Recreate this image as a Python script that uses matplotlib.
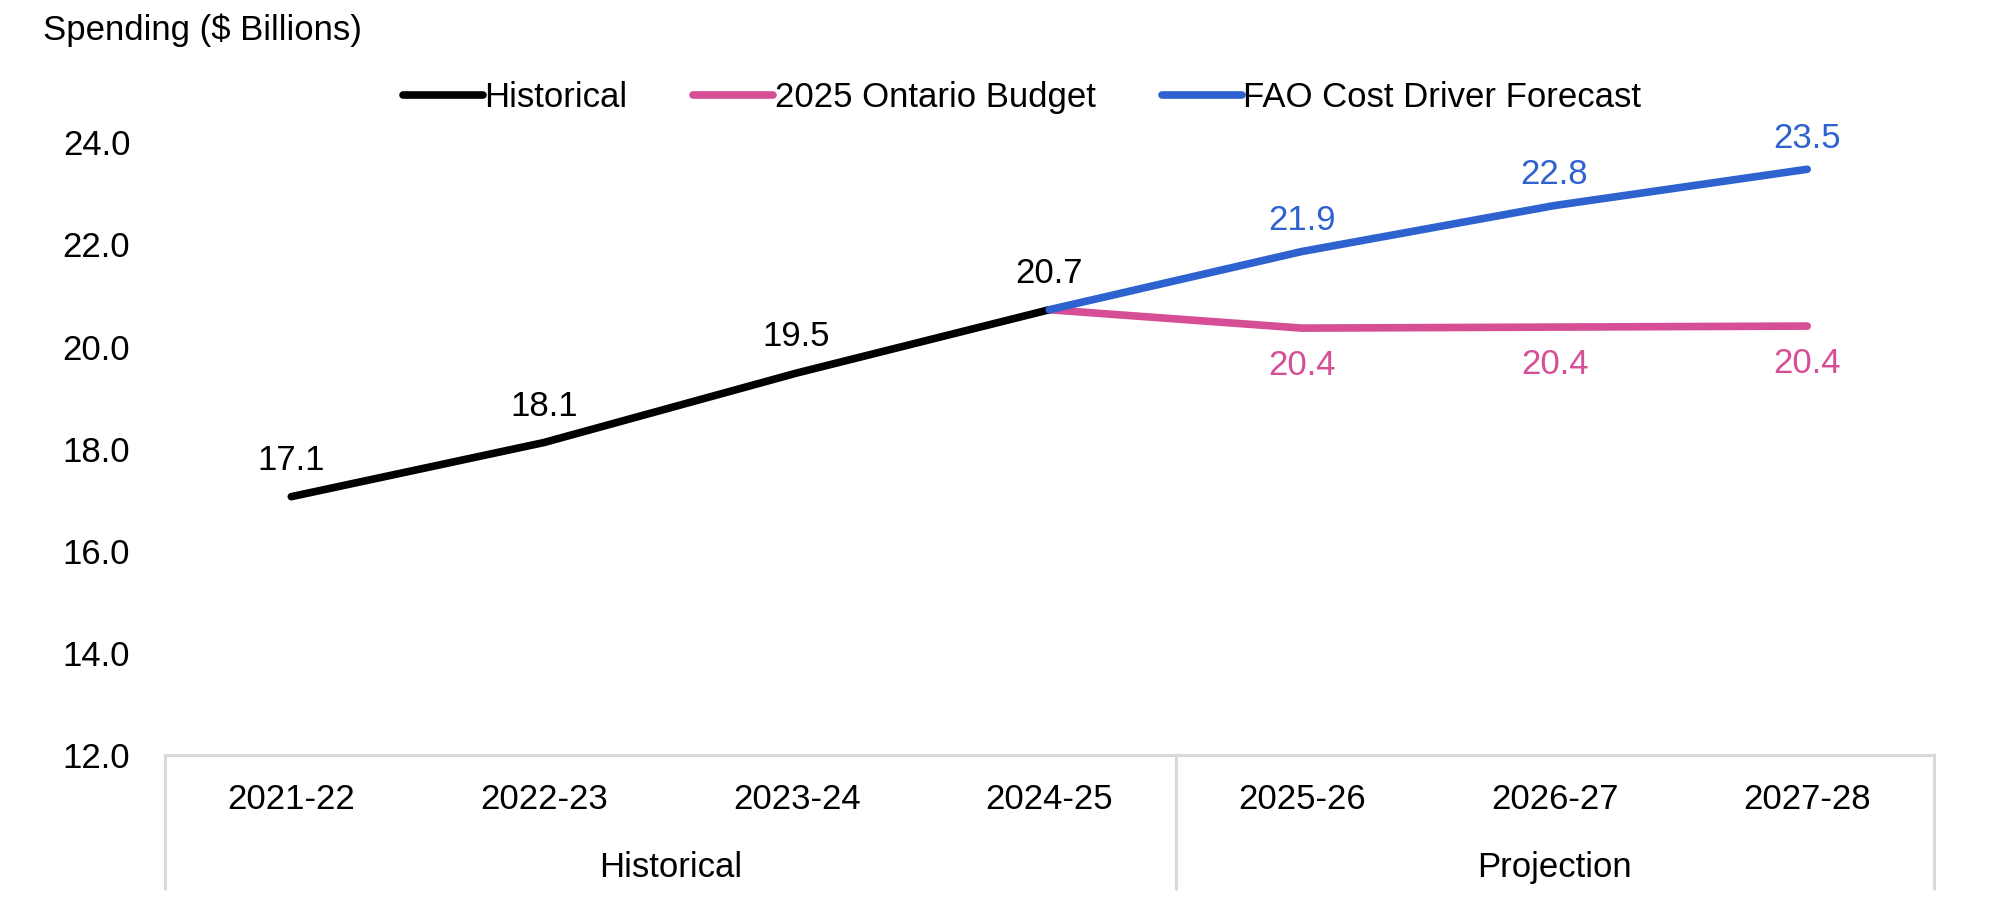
import matplotlib.pyplot as plt
import matplotlib.transforms as mtransforms

plt.rcParams['font.family'] = ['Liberation Sans', 'DejaVu Sans']
plt.rcParams['font.size'] = 25

years = ["2021-22", "2022-23", "2023-24", "2024-25", "2025-26", "2026-27", "2027-28"]
groups = ["Historical", "Projection"]

# x positions are category indices
hist_x = [0, 1, 2, 3]
hist_vals = [17.06, 18.12, 19.48, 20.72]

budget_x = [3, 4, 5, 6]
budget_vals = [20.72, 20.36, 20.38, 20.40]

fao_x = [3, 4, 5, 6]
fao_vals = [20.72, 21.86, 22.76, 23.47]

BLACK = "#000000"
PINK = "#D64F96"
BLUE = "#2E62CF"
GRID = "#D9D9D9"

fig = plt.figure(figsize=(20.12, 9), dpi=100)
ax = fig.add_axes([0.082, 0.161, 0.879, 0.681])

lw = 5.5
ax.plot(budget_x, budget_vals, color=PINK, lw=lw, solid_capstyle="round", zorder=2,
        label="2025 Ontario Budget")
ax.plot(hist_x, hist_vals, color=BLACK, lw=lw, solid_capstyle="round", zorder=3,
        label="Historical")
ax.plot(fao_x, fao_vals, color=BLUE, lw=lw, solid_capstyle="round", zorder=4,
        label="FAO Cost Driver Forecast")

# data labels
for x, v in zip(hist_x, hist_vals):
    ax.annotate(f"{v:.1f}", (x, v), xytext=(0, 26), textcoords="offset points",
                ha="center", va="center", color=BLACK)
for x, v in zip(fao_x[1:], fao_vals[1:]):
    ax.annotate(f"{v:.1f}", (x, v), xytext=(0, 22), textcoords="offset points",
                ha="center", va="center", color=BLUE)
for x, v in zip(budget_x[1:], budget_vals[1:]):
    ax.annotate(f"{v:.1f}", (x, v), xytext=(0, -27), textcoords="offset points",
                ha="center", va="center", color=PINK)

ax.set_xlim(-0.5, 6.5)
ax.set_ylim(12, 24)
ax.set_yticks(range(12, 25, 2))
ax.set_yticklabels([f"{t:.1f}" for t in range(12, 25, 2)])
ax.tick_params(axis="y", length=0, pad=25)
ax.set_xticks([])

for s in ["top", "right", "left"]:
    ax.spines[s].set_visible(False)
ax.spines["bottom"].set_color(GRID)
ax.spines["bottom"].set_linewidth(2.2)

# two-level category axis
trans = mtransforms.blended_transform_factory(ax.transData, ax.transAxes)
for i, lab in enumerate(years):
    ax.text(i, -0.073, lab, transform=trans, ha="center", va="center")
ax.text(1.5, -0.184, groups[0], transform=trans, ha="center", va="center")
ax.text(5.0, -0.184, groups[1], transform=trans, ha="center", va="center")
for xv in [-0.5, 3.5, 6.5]:
    ax.plot([xv, xv], [0, -0.22], transform=trans, color=GRID, lw=2.2,
            clip_on=False, solid_capstyle="butt")

fig.text(0.0214, 0.966, "Spending ($ Billions)", ha="left", va="center")

h, l = ax.get_legend_handles_labels()
order = [1, 0, 2]
fig.legend([h[i] for i in order], [l[i] for i in order], loc="center",
           bbox_to_anchor=(0.508, 0.892), ncol=3, frameon=False,
           handlelength=2.3, handletextpad=0.05, columnspacing=1.9,
           borderpad=0, borderaxespad=0)

fig.savefig("out.png", dpi=100)
